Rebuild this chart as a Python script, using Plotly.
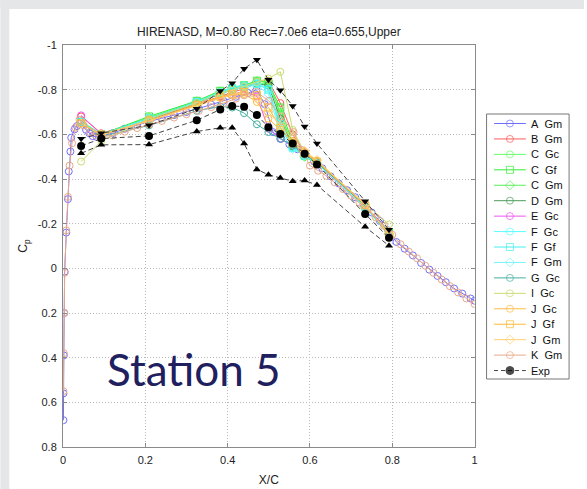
import plotly.graph_objects as go

# ---------------- data ----------------
exp_x = [0.044, 0.093, 0.209, 0.325, 0.382, 0.411, 0.440, 0.471, 0.499, 0.528, 0.558, 0.587, 0.617, 0.734, 0.792]
exp_cp = [-0.548, -0.581, -0.593, -0.663, -0.711, -0.727, -0.724, -0.687, -0.632, -0.601, -0.559, -0.513, -0.465, -0.243, -0.137]
exp_lo = [-0.515, -0.553, -0.554, -0.613, -0.629, -0.629, -0.559, -0.443, -0.419, -0.405, -0.390, -0.393, -0.373, -0.186, -0.101]
exp_hi = [-0.580, -0.605, -0.641, -0.715, -0.794, -0.829, -0.894, -0.934, -0.844, -0.797, -0.727, -0.635, -0.559, -0.300, -0.173]

# dense CFD distributions
a_x = [0.001, 0.001, 0.002, 0.003, 0.004, 0.008, 0.012, 0.014, 0.018, 0.020, 0.028, 0.034, 0.042,
       0.056, 0.064, 0.072, 0.082, 0.093, 0.12, 0.15, 0.18, 0.21, 0.24, 0.27, 0.30, 0.33, 0.36,
       0.39, 0.42, 0.45, 0.47, 0.49, 0.51, 0.53, 0.55, 0.57, 0.59, 0.61, 0.63, 0.65, 0.67, 0.69,
       0.71, 0.73, 0.75, 0.77, 0.79, 0.81, 0.83, 0.85, 0.87, 0.89, 0.91, 0.93, 0.95, 0.97, 0.99, 1.0]
a_cp = [0.68, 0.56, 0.39, 0.20, 0.015, -0.16, -0.31, -0.434, -0.523, -0.585, -0.622, -0.637, -0.652,
        -0.62, -0.605, -0.592, -0.588, -0.592, -0.605, -0.625, -0.642, -0.658, -0.672, -0.686, -0.700, -0.716, -0.733,
        -0.750, -0.768, -0.785, -0.800, -0.735, -0.610, -0.580, -0.555, -0.533, -0.508, -0.478, -0.448, -0.412, -0.380, -0.350,
        -0.318, -0.285, -0.250, -0.212, -0.170, -0.118, -0.088, -0.058, -0.024, 0.006, 0.034, 0.062, 0.090, 0.113, 0.135, 0.145]

k_x = [0.001, 0.002, 0.003, 0.004, 0.008, 0.012, 0.016, 0.022, 0.030, 0.040, 0.050, 0.065, 0.080, 0.095,
       0.12, 0.15, 0.18, 0.21, 0.24, 0.27, 0.30, 0.33, 0.36, 0.39, 0.42, 0.44, 0.47, 0.50, 0.53, 0.56,
       0.58, 0.60, 0.62, 0.64, 0.66, 0.68, 0.70, 0.72, 0.74, 0.76, 0.78, 0.80, 0.82, 0.84, 0.86, 0.88,
       0.90, 0.92, 0.94, 0.96, 0.98, 1.0]
k_cp = [0.55, 0.38, 0.20, 0.02, -0.17, -0.32, -0.46, -0.56, -0.63, -0.665, -0.64, -0.61, -0.595, -0.59,
        -0.595, -0.612, -0.628, -0.645, -0.660, -0.675, -0.690, -0.705, -0.722, -0.740, -0.760, -0.775, -0.790, -0.750, -0.680, -0.610,
        -0.530, -0.460, -0.437, -0.414, -0.385, -0.355, -0.325, -0.295, -0.262, -0.228, -0.190, -0.150, -0.108, -0.075, -0.045, -0.012,
        0.020, 0.050, 0.080, 0.108, 0.135, 0.160]

# CFD series sampled at the experimental stations (exp_x)
b_gm = [-0.680, -0.605, -0.665, -0.735, -0.770, -0.790, -0.805, -0.835, -0.840, -0.740, -0.600, -0.520, -0.480, -0.280, -0.150]
c_gc = [-0.660, -0.600, -0.675, -0.745, -0.790, -0.800, -0.815, -0.830, -0.825, -0.700, -0.545, -0.500, -0.470, -0.275, -0.150]
c_gf = [-0.655, -0.600, -0.680, -0.750, -0.795, -0.805, -0.820, -0.840, -0.830, -0.720, -0.560, -0.505, -0.475, -0.280, -0.160]
c_gm = [-0.650, -0.595, -0.672, -0.748, -0.792, -0.808, -0.818, -0.838, -0.835, -0.690, -0.550, -0.500, -0.470, -0.278, -0.155]
d_gm = [-0.650, -0.600, -0.668, -0.740, -0.780, -0.800, -0.810, -0.825, -0.820, -0.670, -0.545, -0.505, -0.475, -0.280, -0.150]
e_gc = [-0.685, -0.600, -0.660, -0.730, -0.765, -0.780, -0.790, -0.770, -0.625, -0.580, -0.550, -0.515, -0.480, -0.285, -0.150]
f_gc = [-0.655, -0.600, -0.670, -0.745, -0.790, -0.810, -0.820, -0.830, -0.805, -0.650, -0.540, -0.505, -0.470, -0.275, -0.150]
f_gf = [-0.655, -0.600, -0.672, -0.745, -0.785, -0.805, -0.815, -0.825, -0.800, -0.630, -0.540, -0.505, -0.470, -0.275, -0.150]
f_gm = [-0.650, -0.598, -0.668, -0.742, -0.785, -0.800, -0.812, -0.820, -0.780, -0.610, -0.535, -0.505, -0.470, -0.275, -0.150]
g_gc = [-0.650, -0.590, -0.640, -0.705, -0.725, -0.720, -0.695, -0.645, -0.610, -0.580, -0.550, -0.510, -0.475, -0.280, -0.150]
i_gc = [-0.478, -0.570, -0.670, -0.740, -0.785, -0.800, -0.815, -0.835, -0.850, -0.880, -0.620, -0.520, -0.480, -0.290, -0.197]
j_gc = [-0.650, -0.598, -0.660, -0.730, -0.765, -0.775, -0.780, -0.745, -0.670, -0.620, -0.570, -0.520, -0.480, -0.285, -0.155]
j_gf = [-0.650, -0.600, -0.662, -0.732, -0.768, -0.780, -0.790, -0.775, -0.720, -0.630, -0.560, -0.515, -0.478, -0.283, -0.150]
j_gm = [-0.648, -0.598, -0.660, -0.728, -0.762, -0.778, -0.785, -0.760, -0.700, -0.640, -0.580, -0.525, -0.485, -0.285, -0.152]

y_ticks = [-1, -0.8, -0.6, -0.4, -0.2, 0, 0.2, 0.4, 0.6, 0.8]
y_tick_text = ["-1", "-0.8", "-0.6", "-0.4", "-0.2", "0", "0.2", "0.4", "0.6", "0.8"]
x_ticks = [0, 0.2, 0.4, 0.6, 0.8, 1]
x_tick_text = ["0", "0.2", "0.4", "0.6", "0.8", "1"]

NB = "\u00a0"
series = [
    ("A" + NB + NB + "Gm", a_x, a_cp, "#6f6fff", "circle-open"),
    ("B" + NB + NB + "Gm", exp_x, b_gm, "#ff5a5a", "circle-open"),
    ("C" + NB + NB + "Gc", exp_x, c_gc, "#66ff66", "circle-open"),
    ("C" + NB + NB + "Gf", exp_x, c_gf, "#33ee33", "square-open"),
    ("C" + NB + NB + "Gm", exp_x, c_gm, "#55f055", "diamond-open"),
    ("D" + NB + NB + "Gm", exp_x, d_gm, "#4a9a5a", "circle-open"),
    ("E" + NB + NB + "Gc", exp_x, e_gc, "#ee55ee", "circle-open"),
    ("F" + NB + NB + "Gc", exp_x, f_gc, "#55ffff", "circle-open"),
    ("F" + NB + NB + "Gf", exp_x, f_gf, "#44f0f0", "square-open"),
    ("F" + NB + NB + "Gm", exp_x, f_gm, "#77f7f7", "diamond-open"),
    ("G" + NB + NB + "Gc", exp_x, g_gc, "#44b0a0", "circle-open"),
    ("I" + NB + NB + "Gc", exp_x, i_gc, "#c8dc70", "circle-open"),
    ("J" + NB + NB + "Gc", exp_x, j_gc, "#ffbb44", "circle-open"),
    ("J" + NB + NB + "Gf", exp_x, j_gf, "#ffb833", "square-open"),
    ("J" + NB + NB + "Gm", exp_x, j_gm, "#ffd070", "diamond-open"),
    ("K" + NB + NB + "Gm", k_x, k_cp, "#e8a888", "circle-open"),
]

EXP_LINE = dict(color="#444444", width=1, dash="5px,3px")

fig = go.Figure()
for name, xs, ys, col, sym in series:
    fig.add_trace(go.Scatter(
        x=xs, y=ys, name=name, mode="lines+markers", showlegend=False,
        line=dict(color=col, width=1),
        marker=dict(symbol=sym, size=7, color=col, line=dict(width=1, color=col)),
    ))

fig.add_trace(go.Scatter(
    x=exp_x, y=exp_lo, mode="lines+markers", showlegend=False, line=EXP_LINE,
    marker=dict(symbol="triangle-up", size=7, color="black"),
))
fig.add_trace(go.Scatter(
    x=exp_x, y=exp_hi, mode="lines+markers", showlegend=False, line=EXP_LINE,
    marker=dict(symbol="triangle-down", size=7, color="black"),
))
fig.add_trace(go.Scatter(
    x=exp_x, y=exp_cp, name="Exp", mode="lines+markers", showlegend=False, line=EXP_LINE,
    marker=dict(symbol="circle", size=8, color="black"),
))

# ---------------- layout (pixel geometry) ----------------
W, H = 587, 489
L, R, T, B = 63, 477, 45, 447          # plot area
PW = W - L                               # paper width (right margin 0)
PH = B - T

def px_x(px):
    return (px - L) / PW

def px_y(py):
    return (B - py) / PH

# legend box drawn on a pixel-unit helper axis
LG_L, LG_R, LG_T, LG_B = 489, 572, 114, 379
entry_y0, entry_dy = 123.5, 15.44
legend_items = [(n, c, s) for n, _, _, c, s in series] + [("Exp", "#444444", "circle")]

fig.add_shape(type="rect", xref="x2", yref="y2", x0=LG_L, x1=LG_R, y0=LG_T, y1=LG_B,
              fillcolor="white", line=dict(color="#777777", width=1), layer="below")
for i, (name, col, sym) in enumerate(legend_items):
    yy = entry_y0 + i * entry_dy
    is_exp = name == "Exp"
    fig.add_trace(go.Scatter(
        x=[496.5, 512.5, 528.5], y=[yy, yy, yy], xaxis="x2", yaxis="y2",
        mode="lines+markers", showlegend=False, hoverinfo="skip",
        line=dict(color=col, width=1, dash="4px,3px" if is_exp else "solid"),
        marker=dict(symbol=sym, size=[0, 8 if is_exp else 7, 0],
                    color="black" if is_exp else col,
                    line=dict(width=1, color="black" if is_exp else col)),
    ))
    fig.add_annotation(text=name, xref="x2", yref="y2", x=532, y=yy, xanchor="left", yanchor="middle",
                       showarrow=False, font=dict(family="Liberation Sans, Arial", size=11, color="#111"))

axis_common = dict(
    showline=True, linecolor="#8a8a8a", linewidth=1, mirror="ticks",
    ticks="inside", ticklen=4, tickcolor="#8a8a8a",
    showgrid=True, gridcolor="#b8b8b8", griddash="1px,2px", gridwidth=1,
    zeroline=False, tickfont=dict(family="Liberation Sans, Arial", size=11, color="#222"),
)

fig.update_layout(
    width=W, height=H,
    margin=dict(l=L, r=0, t=T, b=H - B),
    paper_bgcolor="white", plot_bgcolor="white",
    font=dict(family="Liberation Sans, Arial", color="#222"),
    title=dict(text="HIRENASD, M=0.80 Rec=7.0e6 eta=0.655,Upper", xref="paper", x=px_x(270),
               xanchor="center", yref="container", y=1 - 32 / H, yanchor="middle",
               font=dict(size=12, color="#222")),
    xaxis=dict(domain=[0, px_x(R)], range=[0, 1], tickvals=x_ticks, ticktext=x_tick_text,
               ticklabelstandoff=3,
               title=dict(text="X/C", font=dict(size=12), standoff=10), **axis_common),
    yaxis=dict(range=[0.8, -1], tickvals=y_ticks, ticktext=y_tick_text, ticklabelstandoff=3,
               title=dict(text="C<sub>p</sub>", font=dict(size=12), standoff=7), **axis_common),
    xaxis2=dict(domain=[px_x(LG_L - 2), 1], range=[LG_L - 2, W], anchor="y2", visible=False, fixedrange=True),
    yaxis2=dict(domain=[0, 1], range=[B, T], anchor="x2", visible=False, fixedrange=True),
    showlegend=False,
)

# slide-like grey border at top/left
fig.add_shape(type="rect", xref="paper", yref="paper", x0=px_x(0), x1=px_x(W), y0=px_y(9), y1=px_y(0),
              fillcolor="#e5e6e8", line=dict(width=0), layer="above")
fig.add_shape(type="rect", xref="paper", yref="paper", x0=px_x(0), x1=px_x(9), y0=px_y(H), y1=px_y(0),
              fillcolor="#e5e6e8", line=dict(width=0), layer="above")

fig.add_annotation(text="Station 5", xref="paper", yref="paper",
                   x=px_x(195), y=px_y(369), xanchor="center", yanchor="middle",
                   showarrow=False, font=dict(family="Lato, Open Sans", size=44, color="#20205f"))

fig.write_html("out.html", post_script="document.body.style.margin='0';",
               config={"displayModeBar": False, "staticPlot": True})
